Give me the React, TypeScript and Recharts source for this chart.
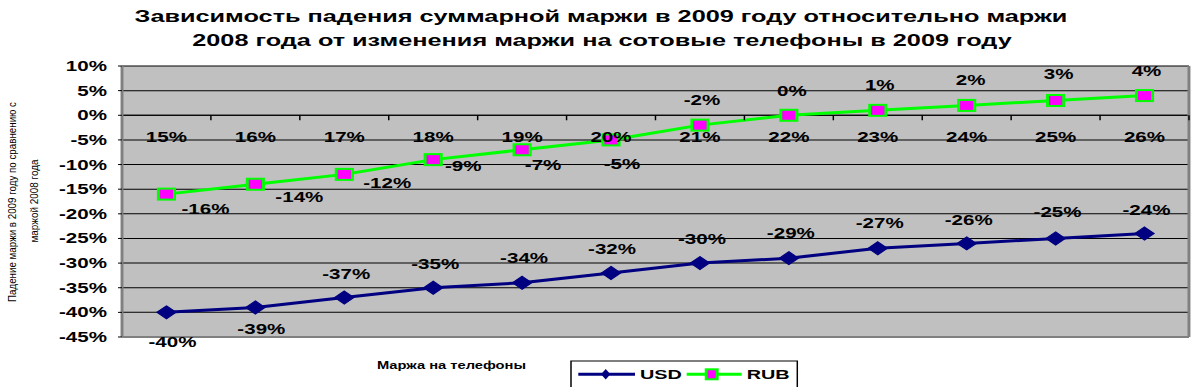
import React from 'react';
import { LineChart, Line, XAxis, YAxis, CartesianGrid, ReferenceLine, LabelList } from 'recharts';

// ---------- data ----------
const CATEGORIES = ['15%', '16%', '17%', '18%', '19%', '20%', '21%', '22%', '23%', '24%', '25%', '26%'];
const USD_VALUES = [-0.40, -0.39, -0.37, -0.35, -0.34, -0.32, -0.30, -0.29, -0.27, -0.26, -0.25, -0.24];
const RUB_VALUES = [-0.16, -0.14, -0.12, -0.09, -0.07, -0.05, -0.02, 0, 0.01, 0.02, 0.03, 0.04];
const Y_TICKS = [0.10, 0.05, 0, -0.05, -0.10, -0.15, -0.20, -0.25, -0.30, -0.35, -0.40, -0.45];
const Y_DOMAIN = [-0.45, 0.10];
const SERIES_NAMES = ['USD', 'RUB'];
const TITLE_LINES = [
  'Зависимость падения суммарной маржи в 2009 году относительно маржи',
  '2008 года от изменения маржи на сотовые телефоны в 2009 году',
];
const Y_LABEL_LINES = ['Падение маржи в 2009 году по сравнению с', 'маржой 2008 года'];
const X_LABEL = 'Маржа на телефоны';

// ---------- layout / style (original-pixel units, horizontally stretched by S) ----------
const S = 1.47;
const W = 1200 / S;
const H = 387;
const PLOT_LEFT = 122;
const PLOT_RIGHT = 1189;
const PLOT_TOP = 66;
const PLOT_BOTTOM = 337;
const X_AXIS_H = 20;
const u = (v: number) => v / S;
const FONT = '"Liberation Sans", Arial, sans-serif';
const USD_COLOR = '#000080';
const RUB_LINE = '#00ff00';
const RUB_FILL = '#ff00ff';
const BORDER = '#808080';

const RUB_LABEL_OFFSETS = [[39, 15], [44, 13], [43, 9], [30, 6], [21, 15], [11, 24], [2, -25], [3, -24], [2, -25], [4, -25], [3, -26], [2, -25]];
const USD_LABEL_OFFSETS = [[6, 30], [6, 22], [2, -24], [2, -24], [2, -25], [1, -24], [2, -24], [2, -25], [2, -25], [2, -23], [2, -26], [2, -24]];

const data = CATEGORIES.map((c, i) => ({ cat: c, usd: USD_VALUES[i], rub: RUB_VALUES[i] }));
const fmt = (v: number) => `${Math.round(v * 100)}%`;

const plotH = PLOT_BOTTOM - PLOT_TOP;
const zeroShift = (plotH * (0 - Y_DOMAIN[0])) / (Y_DOMAIN[1] - Y_DOMAIN[0]);
const bandW = u(PLOT_RIGHT - PLOT_LEFT) / CATEGORIES.length;

const CategoryTick = (props: any) => {
  const { x, y, payload, index } = props;
  const y0 = y - zeroShift;
  return (
    <g>
      {index > 0 && <line x1={x - bandW / 2} x2={x - bandW / 2} y1={y0} y2={y0 + 5} stroke="#000" strokeWidth={1} />}
      {index === CATEGORIES.length - 1 && (
        <line x1={x + bandW / 2} x2={x + bandW / 2} y1={y0} y2={y0 + 5} stroke="#000" strokeWidth={1} />
      )}
      <text x={x} y={y0 + 26.5} textAnchor="middle" fontSize={14} fontWeight="bold" fontFamily={FONT} fill="#000">
        {payload.value}
      </text>
    </g>
  );
};

const makeLabel = (offsets: number[][]) => (props: any) => {
  const { x, y, value, index } = props;
  const [dx, dy] = offsets[index] || [0, -24];
  return (
    <text
      key={`l${index}`}
      x={x + u(dx)}
      y={y + dy + 5}
      textAnchor="middle"
      fontSize={14}
      fontWeight="bold"
      fontFamily={FONT}
      fill="#000"
    >
      {fmt(value)}
    </text>
  );
};

const renderDiamond = (p: any) => {
  const { cx, cy, index } = p;
  if (cx == null || cy == null) return <g key={`d${index}`} />;
  const r = 6.5;
  return (
    <path
      key={`d${index}`}
      d={`M${cx},${cy - r}L${cx + r},${cy}L${cx},${cy + r}L${cx - r},${cy}Z`}
      fill={USD_COLOR}
      stroke={USD_COLOR}
      strokeWidth={1}
    />
  );
};

const renderSquare = (p: any) => {
  const { cx, cy, index } = p;
  if (cx == null || cy == null) return <g key={`s${index}`} />;
  const w = 11;
  const h = 11;
  return (
    <rect key={`s${index}`} x={cx - w / 2} y={cy - h / 2} width={w} height={h} fill={RUB_FILL} stroke={RUB_LINE} strokeWidth={2} />
  );
};

export default function App() {
  return (
    <div style={{ position: 'absolute', left: 0, top: 0, width: 1200, height: H, overflow: 'hidden', background: '#fff' }}>
      <div style={{ position: 'relative', width: W, height: H, transform: `scaleX(${S})`, transformOrigin: '0 0' }}>
        <div style={{ position: 'absolute', left: 0, top: 0 }}>
          <LineChart
            width={W}
            height={H}
            data={data}
            margin={{ top: PLOT_TOP, right: W - u(PLOT_RIGHT) - 1, bottom: H - PLOT_BOTTOM - X_AXIS_H, left: 0 }}
          >
            <CartesianGrid vertical={false} stroke="#000" strokeWidth={1} fill="#c0c0c0" fillOpacity={1} />
            <XAxis
              dataKey="cat"
              height={X_AXIS_H}
              interval={0}
              padding={{ left: bandW / 2, right: bandW / 2 }}
              axisLine={{ stroke: BORDER, strokeWidth: 2 }}
              tickLine={false}
              tickSize={0}
              tickMargin={0}
              tick={<CategoryTick />}
            />
            <YAxis
              type="number"
              domain={Y_DOMAIN}
              ticks={Y_TICKS}
              interval={0}
              width={u(PLOT_LEFT)}
              axisLine={{ stroke: BORDER, strokeWidth: 2 }}
              tickLine={{ stroke: '#000', strokeWidth: 1 }}
              tickSize={u(4)}
              tickMargin={u(11)}
              tickFormatter={fmt}
              tick={{ fill: '#000', fontSize: 14, fontWeight: 'bold', fontFamily: FONT }}
            />
            <YAxis
              yAxisId="r"
              orientation="right"
              width={1}
              tick={false}
              tickLine={false}
              axisLine={{ stroke: BORDER, strokeWidth: 2 }}
            />
            <ReferenceLine y={0} stroke="#000" strokeWidth={1} />
            <Line
              dataKey="usd"
              name={SERIES_NAMES[0]}
              stroke={USD_COLOR}
              strokeWidth={3}
              dot={renderDiamond}
              activeDot={false}
              isAnimationActive={false}
            >
              <LabelList dataKey="usd" content={makeLabel(USD_LABEL_OFFSETS)} />
            </Line>
            <Line
              dataKey="rub"
              name={SERIES_NAMES[1]}
              stroke={RUB_LINE}
              strokeWidth={3}
              dot={renderSquare}
              activeDot={false}
              isAnimationActive={false}
            >
              <LabelList dataKey="rub" content={makeLabel(RUB_LABEL_OFFSETS)} />
            </Line>
          </LineChart>
        </div>
        <svg
          width={W}
          height={H}
          style={{ position: 'absolute', left: 0, top: 0, pointerEvents: 'none' }}
          fontFamily={FONT}
        >
          {/* title */}
          <text x={u(601)} y={22} textAnchor="middle" fontSize={17.2} fontWeight="bold" fill="#000">
            {TITLE_LINES[0]}
          </text>
          <text x={u(602)} y={46} textAnchor="middle" fontSize={17.2} fontWeight="bold" fill="#000">
            {TITLE_LINES[1]}
          </text>
          {/* y-axis title */}
          <text
            transform={`translate(${u(16)},202) rotate(-90)`}
            textAnchor="middle"
            fontSize={7.5}
            fill="#000"
            textLength={200}
            lengthAdjust="spacingAndGlyphs"
          >
            {Y_LABEL_LINES[0]}
          </text>
          <text
            transform={`translate(${u(37.5)},201) rotate(-90)`}
            textAnchor="middle"
            fontSize={7.5}
            fill="#000"
            textLength={83}
            lengthAdjust="spacingAndGlyphs"
          >
            {Y_LABEL_LINES[1]}
          </text>
          {/* x-axis title */}
          <text x={u(451.5)} y={369} textAnchor="middle" fontSize={10} fontWeight="bold" fill="#000">
            {X_LABEL}
          </text>
          {/* legend */}
          <rect x={u(571)} y={361} width={u(797.3 - 571)} height={40} fill="#fff" stroke="#000" strokeWidth={1} />
          <line x1={u(578.3)} x2={u(635)} y1={374.3} y2={374.3} stroke={USD_COLOR} strokeWidth={3} />
          <path
            d={`M${u(605.7)},${374.3 - 5.3}L${u(605.7 + 4.7)},374.3L${u(605.7)},${374.3 + 5.3}L${u(605.7 - 4.7)},374.3Z`}
            fill={USD_COLOR}
          />
          <text x={u(640)} y={379.5} fontSize={13.5} fontWeight="bold" fill="#000">
            {SERIES_NAMES[0]}
          </text>
          <line x1={u(686.7)} x2={u(741.7)} y1={374.3} y2={374.3} stroke={RUB_LINE} strokeWidth={3} />
          <rect x={u(711.7 - 5.5)} y={374.3 - 5} width={u(11)} height={10} fill={RUB_FILL} stroke={RUB_LINE} strokeWidth={2} />
          <text x={u(746.7)} y={379.5} fontSize={13.5} fontWeight="bold" fill="#000">
            {SERIES_NAMES[1]}
          </text>
        </svg>
      </div>
    </div>
  );
}
